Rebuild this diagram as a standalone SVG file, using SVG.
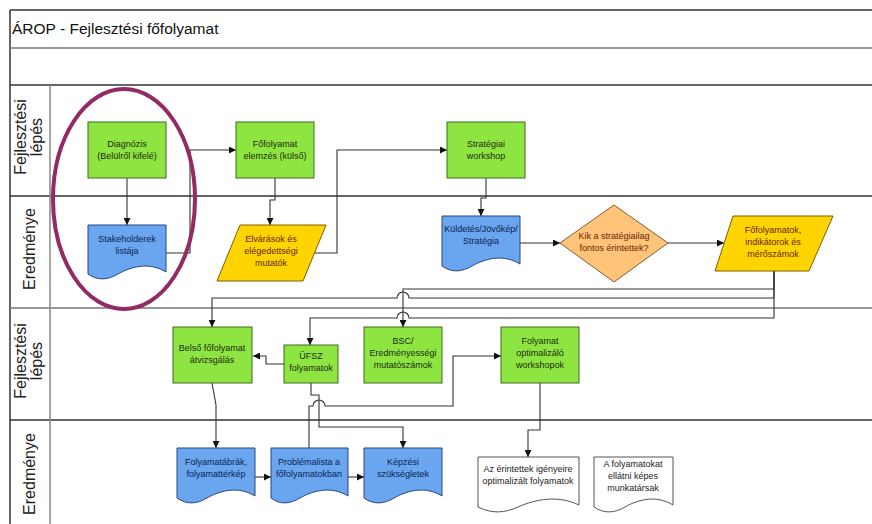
<svg xmlns="http://www.w3.org/2000/svg" width="872" height="524" viewBox="0 0 872 524">
<style>
  text { font-family: "Liberation Sans", Arial, sans-serif; }
  .t { font-size: 9px; text-anchor: middle; }
  .tg { fill: #1c2a10; }
  .tb { fill: #0c1d4e; }
  .ty { fill: #6a1e00; }
  .tw { fill: #222; }
  .lane { font-size: 16px; fill: #222; text-anchor: middle; }
  .green { fill: #8ee542; stroke: #3f6b1f; stroke-width: 1; }
  .blue { fill: #6aa5f0; stroke: #26467e; stroke-width: 1; }
  .yellow { fill: #ffd400; stroke: #7a5e00; stroke-width: 1; }
  .orange { fill: #ffc37a; stroke: #8a5a2a; stroke-width: 1; }
  .white { fill: #fff; stroke: #555; stroke-width: 1; }
  .c { fill: none; stroke: #333; stroke-width: 1.1; }
  .ca { fill: none; stroke: #333; stroke-width: 1.1; marker-end: url(#arr); }
</style>
<defs>
  <marker id="arr" viewBox="0 0 10 10" refX="10" refY="5" markerWidth="7" markerHeight="7" markerUnits="userSpaceOnUse" orient="auto">
    <path d="M0,0 L10,5 L0,10 Z" fill="#111"/>
  </marker>
</defs>
<rect width="872" height="524" fill="#fff"/>

<!-- frame and lanes -->
<g id="frame">
  <line x1="10" y1="10" x2="872" y2="10" stroke="#333" stroke-width="1.5"/>
  <line x1="10" y1="10" x2="10" y2="524" stroke="#333" stroke-width="1.5"/>
  <line x1="10" y1="48" x2="872" y2="48" stroke="#777" stroke-width="1.5"/>
  <line x1="10" y1="85" x2="872" y2="85" stroke="#333" stroke-width="1.5"/>
  <line x1="10" y1="196" x2="872" y2="196" stroke="#333" stroke-width="1.5"/>
  <line x1="10" y1="308" x2="872" y2="308" stroke="#777" stroke-width="1.5"/>
  <line x1="10" y1="420" x2="872" y2="420" stroke="#333" stroke-width="1.5"/>
  <line x1="50" y1="85" x2="50" y2="524" stroke="#888" stroke-width="1.5"/>
  <text x="12" y="34" font-size="15.5" fill="#111">ÁROP - Fejlesztési főfolyamat</text>
  <text class="lane" transform="translate(26,137) rotate(-90)">Fejlesztési</text>
  <text class="lane" transform="translate(42,137) rotate(-90)">lépés</text>
  <text class="lane" transform="translate(35,249) rotate(-90)">Eredménye</text>
  <text class="lane" transform="translate(26,361) rotate(-90)">Fejlesztési</text>
  <text class="lane" transform="translate(42,361) rotate(-90)">lépés</text>
  <text class="lane" transform="translate(35,474) rotate(-90)">Eredménye</text>
</g>

<!-- connectors -->
<g id="connectors">
  <path class="ca" d="M127,178 V225"/>
  <path class="ca" d="M166,253 H190 V150 H236"/>
  <path class="ca" d="M275,178 V200 H270 V225"/>
  <path class="ca" d="M314,253 H337 V150 H447"/>
  <path class="ca" d="M486,178 V198 H481 V216"/>
  <path class="ca" d="M520,243 H560"/>
  <path class="ca" d="M668,243 H724"/>
  <path class="ca" d="M774,271 V289 H403 V327"/>
  <path class="ca" d="M774,271 V298 H409 A6,6 0 0 0 397,298 H212 V327"/>
  <path class="ca" d="M774,271 V318 H409 A6,6 0 0 0 397,318 H310 V345"/>
  <path class="ca" d="M284,364 H266 V356 H253"/>
  <path class="ca" d="M311,383 V395 H319 V427 H403 V448"/>
  <path class="ca" d="M309,448 V406 H313 A6,6 0 0 1 325,406 H453 V356 H501"/>
  <path class="ca" d="M212,383 L216,405 V448"/>
  <path class="ca" d="M255,477 H271"/>
  <path class="ca" d="M348,477 H364"/>
  <path class="ca" d="M540,383 V430 H528 V457"/>
</g>

<!-- nodes -->
<g id="diagnozis">
  <rect class="green" x="88" y="122" width="78" height="56"/>
  <text class="t tg" x="127" y="147">Diagnózis</text>
  <text class="t tg" x="127" y="159">(Belülről kifelé)</text>
</g>
<g id="fofolyamat-elemzes">
  <rect class="green" x="236" y="122" width="78" height="56"/>
  <text class="t tg" x="275" y="147">Főfolyamat</text>
  <text class="t tg" x="275" y="159">elemzés (külső)</text>
</g>
<g id="strategiai-workshop">
  <rect class="green" x="447" y="122" width="78" height="56"/>
  <text class="t tg" x="486" y="147">Stratégiai</text>
  <text class="t tg" x="486" y="159">workshop</text>
</g>
<g id="stakeholderek">
  <path class="blue" d="M88,225 H166 V272 C150,262 132,266 118,274 C108,280 98,281 88,274 Z"/>
  <text class="t tb" x="127" y="242">Stakeholderek</text>
  <text class="t tb" x="127" y="254">listája</text>
</g>
<g id="elvarasok">
  <polygon class="yellow" points="240,225 326,225 303,281 217,281"/>
  <text class="t ty" x="271" y="242">Elvárások és</text>
  <text class="t ty" x="271" y="254">elégedettségi</text>
  <text class="t ty" x="271" y="266">mutatók</text>
</g>
<g id="kuldetes">
  <path class="blue" d="M442,216 H520 V264 C504,254 486,258 472,266 C462,272 452,273 442,266 Z"/>
  <text class="t tb" x="481" y="232">Küldetés/Jövőkép/</text>
  <text class="t tb" x="481" y="244">Stratégia</text>
</g>
<g id="kik-a-strategiailag">
  <polygon class="orange" points="614,205 668,243 614,282 560,243"/>
  <text class="t ty" x="614" y="239">Kik a stratégiailag</text>
  <text class="t ty" x="614" y="251">fontos érintettek?</text>
</g>
<g id="fofolyamatok-indikatorok">
  <polygon class="yellow" points="733,216 833,216 809,271 715,271"/>
  <text class="t ty" x="773" y="233">Főfolyamatok,</text>
  <text class="t ty" x="773" y="245">indikátorok és</text>
  <text class="t ty" x="773" y="257">mérőszámok</text>
</g>
<g id="belso-fofolyamat">
  <rect class="green" x="173" y="327" width="79" height="56"/>
  <text class="t tg" x="212" y="351">Belső főfolyamat</text>
  <text class="t tg" x="212" y="363">átvizsgálás</text>
</g>
<g id="ufsz">
  <rect class="green" x="284" y="345" width="54" height="38"/>
  <text class="t tg" x="311" y="359">ÜFSZ</text>
  <text class="t tg" x="311" y="371">folyamatok</text>
</g>
<g id="bsc">
  <rect class="green" x="364" y="327" width="78" height="56"/>
  <text class="t tg" x="403" y="344">BSC/</text>
  <text class="t tg" x="403" y="356">Eredményességi</text>
  <text class="t tg" x="403" y="368">mutatószámok</text>
</g>
<g id="folyamat-optimalizalo">
  <rect class="green" x="501" y="327" width="78" height="56"/>
  <text class="t tg" x="540" y="344">Folyamat</text>
  <text class="t tg" x="540" y="356">optimalizáló</text>
  <text class="t tg" x="540" y="368">workshopok</text>
</g>
<g id="folyamatabrak">
  <path class="blue" d="M177,448 H255 V496 C239,486 221,490 207,498 C197,504 187,505 177,498 Z"/>
  <text class="t tb" x="216" y="465">Folyamatábrák,</text>
  <text class="t tb" x="216" y="477">folyamattérkép</text>
</g>
<g id="problemalista">
  <path class="blue" d="M271,448 H348 V496 C332,486 314,490 300,498 C290,504 280,505 271,498 Z"/>
  <text class="t tb" x="309" y="465">Problémalista a</text>
  <text class="t tb" x="309" y="477">főfolyamatokban</text>
</g>
<g id="kepzesi">
  <path class="blue" d="M364,448 H442 V496 C426,486 408,490 394,498 C384,504 374,505 364,498 Z"/>
  <text class="t tb" x="403" y="465">Képzési</text>
  <text class="t tb" x="403" y="477">szükségletek</text>
</g>
<g id="az-erintettek">
  <path class="white" d="M478,457 H579 V505 C558,495 536,499 518,507 C505,513 492,514 478,507 Z"/>
  <text class="t tw" x="528" y="472">Az érintettek igényeire</text>
  <text class="t tw" x="528" y="484">optimalizált folyamatok</text>
</g>
<g id="munkatarsak">
  <path class="white" d="M594,457 H673 V505 C657,495 639,499 625,507 C615,513 604,514 594,507 Z"/>
  <text class="t tw" x="633" y="467">A folyamatokat</text>
  <text class="t tw" x="633" y="479">ellátni képes</text>
  <text class="t tw" x="633" y="491">munkatársak</text>
</g>

<g id="highlight">
  <ellipse cx="124" cy="199" rx="71" ry="110" fill="none" stroke="#922b64" stroke-width="4"/>
</g>
</svg>
